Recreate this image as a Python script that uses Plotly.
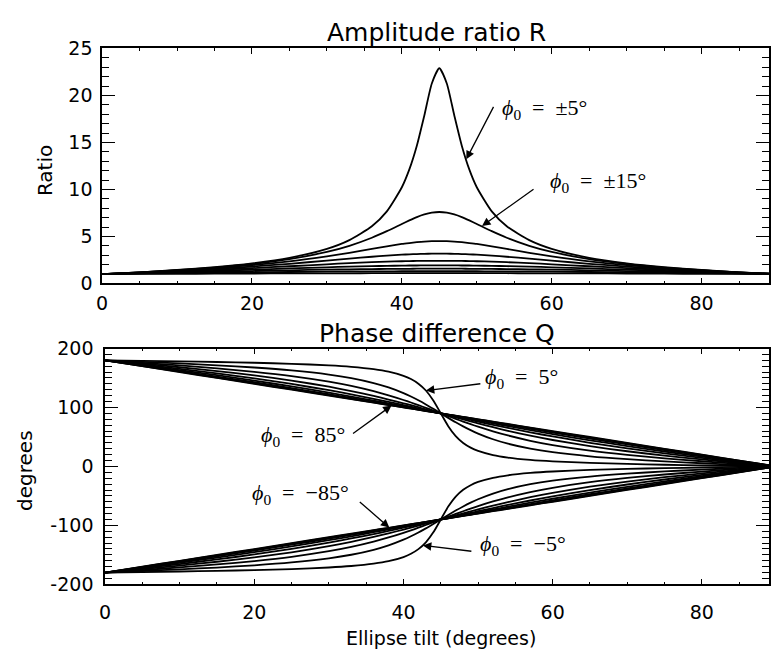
import plotly.graph_objects as go

# ---------------- data ----------------
THETA = [0, 5, 10, 15, 20, 25, 30, 33, 36, 38, 40, 41, 42, 43, 44, 45,
         46, 47, 48, 49, 50, 52, 54, 57, 60, 65, 70, 75, 80, 85, 89]

PHI0 = [5, 15, 25, 35, 45, 55, 65, 75, 85]

# Amplitude ratio R, one list per |phi0|
R_5 = [1.00, 1.19, 1.43, 1.73, 2.14, 2.73, 3.68, 4.61, 6.09, 7.67, 10.23, 12.13, 14.65, 17.87, 21.27, 22.89,
       21.27, 17.87, 14.65, 12.13, 10.23, 7.67, 6.09, 4.61, 3.68, 2.73, 2.14, 1.73, 1.43, 1.19, 1.04]
R_15 = [1.00, 1.18, 1.41, 1.69, 2.07, 2.59, 3.35, 4.00, 4.86, 5.56, 6.33, 6.71, 7.06, 7.34, 7.53, 7.60,
        7.53, 7.34, 7.06, 6.71, 6.33, 5.56, 4.86, 4.00, 3.35, 2.59, 2.07, 1.69, 1.41, 1.18, 1.03]
R_25 = [1.00, 1.17, 1.38, 1.63, 1.95, 2.35, 2.88, 3.26, 3.67, 3.95, 4.20, 4.30, 4.39, 4.46, 4.50, 4.51,
        4.50, 4.46, 4.39, 4.30, 4.20, 3.95, 3.67, 3.26, 2.88, 2.35, 1.95, 1.63, 1.38, 1.17, 1.03]
R_35 = [1.00, 1.15, 1.33, 1.55, 1.80, 2.09, 2.43, 2.64, 2.84, 2.96, 3.06, 3.10, 3.13, 3.15, 3.17, 3.17,
        3.17, 3.15, 3.13, 3.10, 3.06, 2.96, 2.84, 2.64, 2.43, 2.09, 1.80, 1.55, 1.33, 1.15, 1.03]
R_45 = [1.00, 1.13, 1.28, 1.45, 1.63, 1.83, 2.04, 2.16, 2.26, 2.32, 2.36, 2.38, 2.40, 2.41, 2.41, 2.41,
        2.41, 2.41, 2.40, 2.38, 2.36, 2.32, 2.26, 2.16, 2.04, 1.83, 1.63, 1.45, 1.28, 1.13, 1.03]
R_55 = [1.00, 1.11, 1.22, 1.34, 1.47, 1.60, 1.72, 1.79, 1.84, 1.87, 1.90, 1.91, 1.91, 1.92, 1.92, 1.92,
        1.92, 1.92, 1.91, 1.91, 1.90, 1.87, 1.84, 1.79, 1.72, 1.60, 1.47, 1.34, 1.22, 1.11, 1.02]
R_65 = [1.00, 1.08, 1.16, 1.24, 1.32, 1.40, 1.47, 1.50, 1.53, 1.55, 1.56, 1.56, 1.57, 1.57, 1.57, 1.57,
        1.57, 1.57, 1.57, 1.56, 1.56, 1.55, 1.53, 1.50, 1.47, 1.40, 1.32, 1.24, 1.16, 1.08, 1.01]
R_75 = [1.00, 1.05, 1.09, 1.14, 1.18, 1.22, 1.26, 1.27, 1.29, 1.29, 1.30, 1.30, 1.30, 1.30, 1.30, 1.30,
        1.30, 1.30, 1.30, 1.30, 1.30, 1.29, 1.29, 1.27, 1.26, 1.22, 1.18, 1.14, 1.09, 1.05, 1.01]
R_85 = [1.00, 1.02, 1.03, 1.04, 1.06, 1.07, 1.08, 1.08, 1.09, 1.09, 1.09, 1.09, 1.09, 1.09, 1.09, 1.09,
        1.09, 1.09, 1.09, 1.09, 1.09, 1.09, 1.09, 1.08, 1.08, 1.07, 1.06, 1.04, 1.03, 1.02, 1.00]

# Phase difference Q (degrees), positive phi0
Q_P5 = [180, 179.12, 178.18, 177.12, 175.82, 174.07, 171.42, 168.92, 164.98, 160.73, 153.70, 148.19, 140.33, 128.74, 111.83, 90,
        68.17, 51.26, 39.67, 31.81, 26.30, 19.27, 15.02, 11.08, 8.58, 5.93, 4.18, 2.88, 1.82, 0.88, 0.17]
Q_P15 = [180, 177.39, 174.62, 171.50, 167.75, 162.86, 155.85, 149.83, 141.46, 133.93, 124.27, 118.50, 112.10, 105.12, 97.68, 90,
         82.32, 74.88, 67.90, 61.50, 55.73, 46.07, 38.54, 30.17, 24.15, 17.14, 12.25, 8.50, 5.38, 2.61, 0.52]
Q_P25 = [180, 175.74, 171.26, 166.29, 160.47, 153.27, 143.80, 136.49, 127.55, 120.54, 112.65, 108.40, 103.97, 99.39, 94.72, 90,
         85.28, 80.61, 76.03, 71.60, 67.35, 59.46, 52.45, 43.51, 36.20, 26.73, 19.53, 13.71, 8.75, 4.26, 0.85]
Q_P35 = [180, 174.23, 168.21, 161.68, 154.30, 145.65, 135.19, 127.82, 119.53, 113.50, 107.09, 103.77, 100.38, 96.95, 93.48, 90,
         86.52, 83.05, 79.62, 76.23, 72.91, 66.50, 60.47, 52.18, 44.81, 34.35, 25.70, 18.32, 11.79, 5.78, 1.15]
Q_P45 = [180, 172.89, 165.57, 157.79, 149.32, 139.88, 129.23, 122.20, 114.68, 109.42, 104.00, 101.24, 98.45, 95.65, 92.83, 90,
         87.17, 84.35, 81.55, 78.76, 76.00, 70.58, 65.32, 57.80, 50.77, 40.12, 30.68, 22.21, 14.43, 7.11, 1.41]
Q_P55 = [180, 171.78, 163.40, 154.69, 145.50, 135.69, 125.18, 118.53, 111.64, 106.93, 102.15, 99.73, 97.31, 94.88, 92.44, 90,
         87.56, 85.12, 82.69, 80.27, 77.85, 73.07, 68.36, 61.47, 54.82, 44.31, 34.50, 25.31, 16.60, 8.22, 1.64]
Q_P65 = [180, 170.92, 161.74, 152.38, 142.75, 132.80, 122.50, 116.16, 109.73, 105.38, 101.01, 98.81, 96.61, 94.41, 92.21, 90,
         87.79, 85.59, 83.39, 81.19, 78.99, 74.62, 70.27, 63.84, 57.50, 47.20, 37.25, 27.62, 18.26, 9.08, 1.81]
Q_P75 = [180, 170.33, 160.63, 150.85, 140.97, 130.98, 120.87, 114.75, 108.59, 104.47, 100.34, 98.28, 96.21, 94.14, 92.07, 90,
         87.93, 85.86, 83.79, 81.72, 79.66, 75.53, 71.41, 65.25, 59.13, 49.02, 39.03, 29.15, 19.37, 9.67, 1.93]
Q_P85 = [180, 170.04, 160.07, 150.09, 140.11, 130.11, 120.09, 114.08, 108.06, 104.05, 100.04, 98.03, 96.02, 94.01, 92.01, 90,
         87.99, 85.99, 83.98, 81.97, 79.96, 75.95, 71.94, 65.92, 59.91, 49.89, 39.89, 29.91, 19.93, 9.96, 1.99]

# Phase difference Q (degrees), negative phi0
Q_M5 = [-180, -179.12, -178.18, -177.12, -175.82, -174.07, -171.42, -168.92, -164.98, -160.73, -153.70, -148.19, -140.33, -128.74, -111.83, -90,
        -68.17, -51.26, -39.67, -31.81, -26.30, -19.27, -15.02, -11.08, -8.58, -5.93, -4.18, -2.88, -1.82, -0.88, -0.17]
Q_M15 = [-180, -177.39, -174.62, -171.50, -167.75, -162.86, -155.85, -149.83, -141.46, -133.93, -124.27, -118.50, -112.10, -105.12, -97.68, -90,
         -82.32, -74.88, -67.90, -61.50, -55.73, -46.07, -38.54, -30.17, -24.15, -17.14, -12.25, -8.50, -5.38, -2.61, -0.52]
Q_M25 = [-180, -175.74, -171.26, -166.29, -160.47, -153.27, -143.80, -136.49, -127.55, -120.54, -112.65, -108.40, -103.97, -99.39, -94.72, -90,
         -85.28, -80.61, -76.03, -71.60, -67.35, -59.46, -52.45, -43.51, -36.20, -26.73, -19.53, -13.71, -8.75, -4.26, -0.85]
Q_M35 = [-180, -174.23, -168.21, -161.68, -154.30, -145.65, -135.19, -127.82, -119.53, -113.50, -107.09, -103.77, -100.38, -96.95, -93.48, -90,
         -86.52, -83.05, -79.62, -76.23, -72.91, -66.50, -60.47, -52.18, -44.81, -34.35, -25.70, -18.32, -11.79, -5.78, -1.15]
Q_M45 = [-180, -172.89, -165.57, -157.79, -149.32, -139.88, -129.23, -122.20, -114.68, -109.42, -104.00, -101.24, -98.45, -95.65, -92.83, -90,
         -87.17, -84.35, -81.55, -78.76, -76.00, -70.58, -65.32, -57.80, -50.77, -40.12, -30.68, -22.21, -14.43, -7.11, -1.41]
Q_M55 = [-180, -171.78, -163.40, -154.69, -145.50, -135.69, -125.18, -118.53, -111.64, -106.93, -102.15, -99.73, -97.31, -94.88, -92.44, -90,
         -87.56, -85.12, -82.69, -80.27, -77.85, -73.07, -68.36, -61.47, -54.82, -44.31, -34.50, -25.31, -16.60, -8.22, -1.64]
Q_M65 = [-180, -170.92, -161.74, -152.38, -142.75, -132.80, -122.50, -116.16, -109.73, -105.38, -101.01, -98.81, -96.61, -94.41, -92.21, -90,
         -87.79, -85.59, -83.39, -81.19, -78.99, -74.62, -70.27, -63.84, -57.50, -47.20, -37.25, -27.62, -18.26, -9.08, -1.81]
Q_M75 = [-180, -170.33, -160.63, -150.85, -140.97, -130.98, -120.87, -114.75, -108.59, -104.47, -100.34, -98.28, -96.21, -94.14, -92.07, -90,
         -87.93, -85.86, -83.79, -81.72, -79.66, -75.53, -71.41, -65.25, -59.13, -49.02, -39.03, -29.15, -19.37, -9.67, -1.93]
Q_M85 = [-180, -170.04, -160.07, -150.09, -140.11, -130.11, -120.09, -114.08, -108.06, -104.05, -100.04, -98.03, -96.02, -94.01, -92.01, -90,
         -87.99, -85.99, -83.98, -81.97, -79.96, -75.95, -71.94, -65.92, -59.91, -49.89, -39.89, -29.91, -19.93, -9.96, -1.99]

X_TICKS = [0, 20, 40, 60, 80]
R_TICKS = [0, 5, 10, 15, 20, 25]
Q_TICKS = [-200, -100, 0, 100, 200]
Q_TICKTEXT = ["-200", "-100", "0", "100", "200"]

R_SERIES = [R_5, R_15, R_25, R_35, R_45, R_55, R_65, R_75, R_85]
Q_SERIES = [Q_P5, Q_P15, Q_P25, Q_P35, Q_P45, Q_P55, Q_P65, Q_P75, Q_P85,
            Q_M5, Q_M15, Q_M25, Q_M35, Q_M45, Q_M55, Q_M65, Q_M75, Q_M85]

# ---------------- figure ----------------
W, H = 771, 657
LINE = dict(color="black", width=1.8, shape="spline", smoothing=0.6)

fig = go.Figure()
for ys in R_SERIES:
    fig.add_trace(go.Scatter(x=THETA, y=ys, mode="lines", line=LINE,
                             xaxis="x", yaxis="y", showlegend=False, hoverinfo="skip"))
for ys in Q_SERIES:
    fig.add_trace(go.Scatter(x=THETA, y=ys, mode="lines", line=LINE,
                             xaxis="x2", yaxis="y2", showlegend=False, hoverinfo="skip"))

SANS = "DejaVu Sans, Arial, sans-serif"
SERIF = "Liberation Serif, Times New Roman, serif"
TICKFONT = dict(family=SANS, size=19, color="black")

common = dict(showline=True, linecolor="black", linewidth=1.6, mirror="allticks",
              ticks="inside", tickcolor="black", tickwidth=1.3,
              showgrid=False, zeroline=False, tickfont=TICKFONT)

def xax(domain, anchor, standoff):
    return dict(common, domain=domain, anchor=anchor, range=[0, 89],
                tickmode="array", tickvals=X_TICKS, ticklen=6,
                ticklabelstandoff=standoff,
                minor=dict(ticks="inside", ticklen=3, tickmode="linear", tick0=0, dtick=5,
                           tickcolor="black", tickwidth=1, showgrid=False))

top_px, mid1_px = 38.7, 281.9
mid2_px, bot_px = 349.2, 593.2

fig.update_layout(
    width=W, height=H,
    margin=dict(l=0, r=0, t=0, b=0),
    paper_bgcolor="white", plot_bgcolor="white",
    xaxis=xax([97 / W, 770 / W], "y", 2),
    yaxis=dict(common, domain=[1 - mid1_px / H, 1 - top_px / H], anchor="x",
               range=[0, 25], tickmode="array", tickvals=R_TICKS, ticklen=13,
               ticklabelstandoff=4,
               minor=dict(ticks="inside", ticklen=7, tickmode="linear", tick0=0, dtick=1,
                          tickcolor="black", tickwidth=1, showgrid=False)),
    xaxis2=xax([100 / W, 770 / W], "y2", 10),
    yaxis2=dict(common, domain=[1 - bot_px / H, 1 - mid2_px / H], anchor="x2",
                range=[-200, 200], tickmode="array", tickvals=Q_TICKS, ticktext=Q_TICKTEXT,
                ticklen=13, ticklabelstandoff=6,
                minor=dict(ticks="inside", ticklen=7, tickmode="linear", tick0=0, dtick=10,
                           tickcolor="black", tickwidth=1, showgrid=False)),
)

def ptext(text, px, py, size=20, family=SANS, angle=0):
    return dict(text=text, x=px / W, y=1 - py / H, xref="paper", yref="paper",
                showarrow=False, xanchor="center", yanchor="middle", textangle=angle,
                font=dict(family=family, size=size, color="black"))

def arrow(xh, yh, ax, ay, xr, yr):
    return dict(text="", x=xh, y=yh, xref=xr, yref=yr, ax=ax, ay=ay,
                showarrow=True, arrowhead=2, arrowsize=1.3, arrowwidth=1.3,
                arrowcolor="black")

SP = "\u2002"
ann = [
    ptext("Amplitude ratio R", 434, 22, size=25),
    ptext("Phase difference Q", 435, 334, size=25),
    ptext("Ratio", 40, 165, size=20, angle=-90),
    ptext("degrees", 19, 475, size=20, angle=-90),
    ptext("Ellipse tilt (degrees)", 439, 649, size=19),
    ptext("<i>ϕ</i><sub>0</sub>" + SP + "=" + SP + "±5°", 543, 101, size=22, family=SERIF),
    ptext("<i>ϕ</i><sub>0</sub>" + SP + "=" + SP + "±15°", 597, 177, size=22, family=SERIF),
    ptext("<i>ϕ</i><sub>0</sub>" + SP + "=" + SP + "5°", 520, 380, size=22, family=SERIF),
    ptext("<i>ϕ</i><sub>0</sub>" + SP + "=" + SP + "85°", 300, 440, size=22, family=SERIF),
    ptext("<i>ϕ</i><sub>0</sub>" + SP + "=" + SP + "−85°", 297, 500, size=22, family=SERIF),
    ptext("<i>ϕ</i><sub>0</sub>" + SP + "=" + SP + "−5°", 522, 553, size=22, family=SERIF),
    arrow(48.6, 13.2, 28, -54, "x", "y"),
    arrow(50.7, 6.1, 53, -38, "x", "y"),
    arrow(43.0, 128.7, 56, -7, "x2", "y2"),
    arrow(38.4, 103.2, -40, 29, "x2", "y2"),
    arrow(38.1, -103.8, -31, -27, "x2", "y2"),
    arrow(42.6, -134.0, 50, 6, "x2", "y2"),
]
fig.update_layout(annotations=ann)

fig.write_html("out.html")
